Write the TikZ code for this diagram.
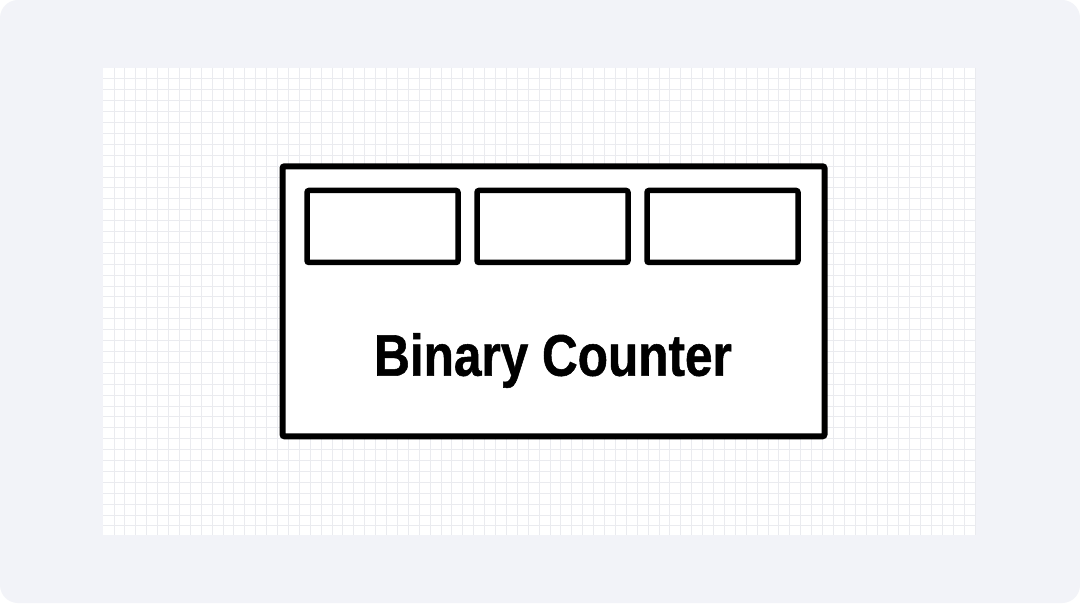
\documentclass[tikz,border=0pt]{standalone}
\usepackage{fontspec}
\setmainfont{Liberation Sans}[FakeStretch=0.845,BoldFeatures={FakeBold=0.9}]
\usetikzlibrary{positioning}

\definecolor{canvasbg}{RGB}{242,243,248}
\definecolor{gridline}{RGB}{234,235,239}
\tikzset{
  counterbox/.style={line width=6pt,draw=black,fill=white,rounded corners=2pt,inner sep=0pt,minimum width=542pt,minimum height=270pt},
  bitbox/.style={line width=5.5pt,draw=black,fill=white,rounded corners=2pt,inner sep=0pt,minimum width=151pt,minimum height=72pt}
}

\begin{document}
\begin{tikzpicture}[x=1pt,y=-1pt]
    \useasboundingbox (0,0) rectangle (1080,604);
    \fill[white] (0,0) rectangle (1080,604);
    \fill[rounded corners=18pt,canvasbg] (0,0) rectangle (1080,603);
    \fill[white] (103,68) rectangle (976,535);
    % grid
    \foreach \i in {1,...,80} \draw[gridline,line width=0.8pt] (103+10.9*\i,68) -- (103+10.9*\i,535);
    \foreach \j in {1,...,42} \draw[gridline,line width=0.8pt] (103,68+10.9*\j) -- (976,68+10.9*\j);
    \node[counterbox] (counter) at (553.5,301.3) {};
    \node[bitbox] (bitB) at (552.5,226.5) {};
    \node[bitbox,left=13.5pt of bitB] (bitA) {};
    \node[bitbox,right=13.5pt of bitB] (bitC) {};
    \node[font=\bfseries\fontsize{58.6}{60}\selectfont,anchor=base] (title) at (553,375.7) {Binary Counter};
\end{tikzpicture}
\end{document}
